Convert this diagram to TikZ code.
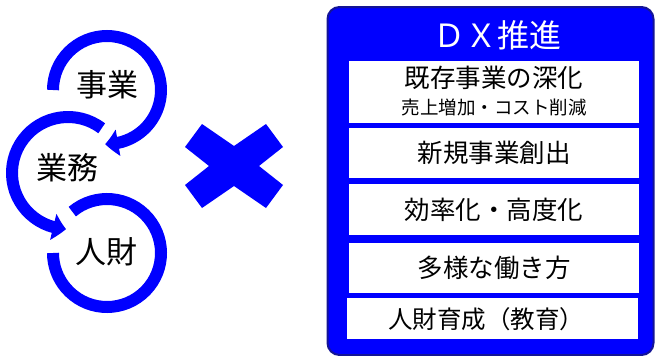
\documentclass[tikz,border=0pt]{standalone}
\usepackage{fontspec}
\setmainfont{Noto Sans CJK JP}
\usetikzlibrary{arrows.meta,bending}
\definecolor{dxblue}{RGB}{0,0,255}
\definecolor{dxnavy}{RGB}{20,20,150}
\tikzset{
  ring/.style={draw=dxblue, line width=12pt},
  ringarrow/.style={ring, -{Triangle[width=26pt,length=13pt,bend]}},
  lbl/.style={inner sep=0pt, font=\fontsize{31}{31}\selectfont},
  box/.style={fill=white, inner sep=0pt},
  boxtxt/.style={inner sep=0pt, font=\fontsize{25.5}{26}\selectfont},
  subtxt/.style={inner sep=0pt, font=\fontsize{18.5}{19}\selectfont},
}
\begin{document}
\begin{tikzpicture}[x=1pt,y=-1pt]
\useasboundingbox (0,0) rectangle (657,356);
% circles
\coordinate (c1) at (107,90);
\coordinate (c2) at (68,173);
\coordinate (c3) at (107,253);
\draw[ringarrow] ([shift={(180:54)}]c1) arc[start angle=180, end angle=-92, x radius=54, y radius=-54];
\draw[ringarrow] ([shift={(-53:56)}]c2) arc[start angle=53, end angle=268, x radius=56, y radius=-56];
\draw[ring] ([shift={(-130:54)}]c3) arc[start angle=130, end angle=-180, x radius=54, y radius=-54];
\node[lbl] (l1) at (107,85) {事業};
\node[lbl] (l2) at (67,168) {業務};
\node[lbl] (l3) at (106,252) {人財};
% cross
\fill[dxblue] (185,147) -- (202,124) -- (234,146) -- (266,124) -- (283,147) -- (259,166)
  -- (283,185) -- (266,208) -- (234,186) -- (202,208) -- (185,185) -- (209,166) -- cycle;
% panel
\node[draw=dxnavy, line width=2pt, fill=dxblue, rounded corners=12pt,
      minimum width=326, minimum height=348, inner sep=0pt] (panel) at (490.5,181) {};
\node[inner sep=0pt, text=white, font=\fontsize{32}{32}\selectfont] (title) at (497,35) {ＤＸ推進};
\node[box, minimum width=290, minimum height=62] (b1) at (494,92) {};
\node[boxtxt] (t1) at (494,78) {既存事業の深化};
\node[subtxt] (t1s) at (494,107) {売上増加・コスト削減};
\node[box, minimum width=290, minimum height=50, boxtxt] (b2) at (494,153) {新規事業創出};
\node[box, minimum width=290, minimum height=51, boxtxt] (b3) at (494,209.5) {効率化・高度化};
\node[box, minimum width=290, minimum height=50, boxtxt] (b4) at (494,268) {多様な働き方};
\node[box, minimum width=291, minimum height=41] (b5) at (492.5,318.5) {};
\node[boxtxt, font=\fontsize{24.5}{25}\selectfont] (t5) at (486,319) {人財育成（教育）};
\end{tikzpicture}
\end{document}
